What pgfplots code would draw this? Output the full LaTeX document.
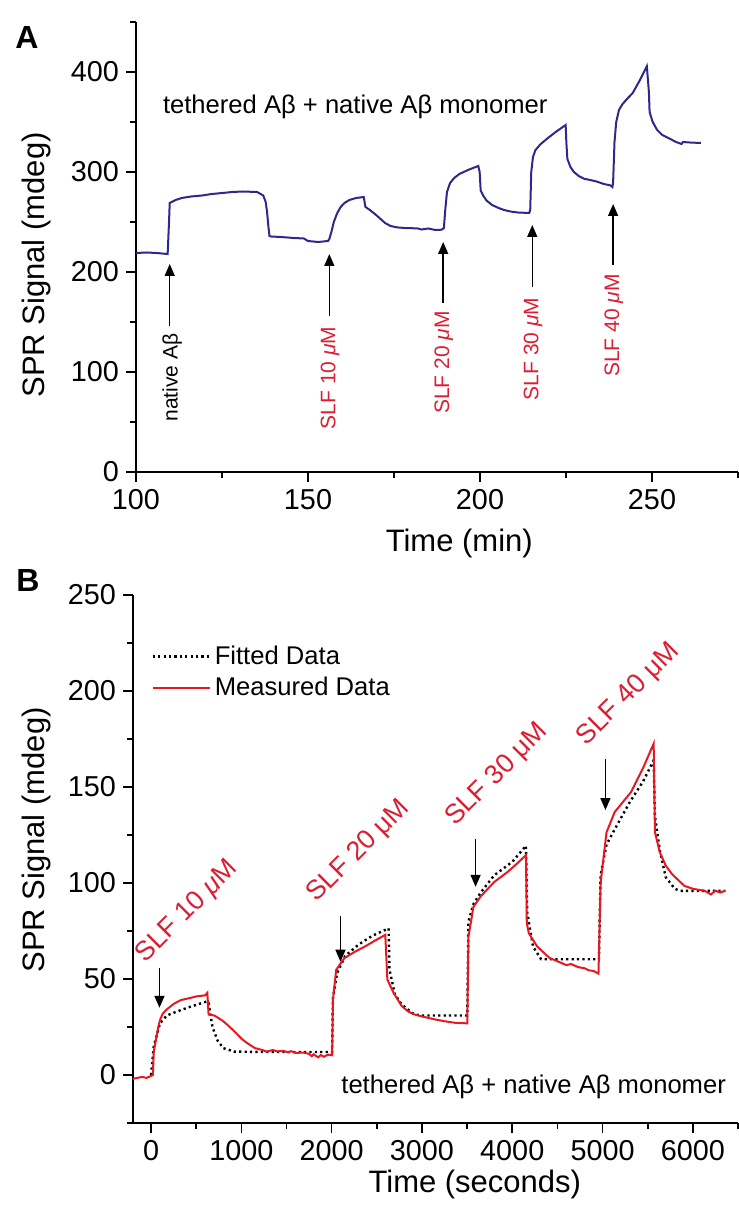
\documentclass[border=0pt]{standalone}
\usepackage{fontspec}
\setmainfont{Liberation Sans}
\usepackage{pgfplots}
\pgfplotsset{compat=1.18}
\usetikzlibrary{arrows.meta}
\definecolor{bluA}{RGB}{45,40,140}
\definecolor{redB}{RGB}{230,25,35}
\definecolor{redL}{RGB}{220,30,50}
\begin{document}
\begin{tikzpicture}
\useasboundingbox (0,0) rectangle (369.5pt,603.5pt);
\pgfplotsset{
  myaxis/.style={
    scale only axis,
    axis lines*=left,
    axis line style={line width=1pt,black},
    tick align=outside,
    major tick length=5pt,
    minor tick length=3pt,
    every tick/.style={black,line width=0.8pt},
    tick label style={font=\fontsize{14.4}{16}\selectfont},
    label style={font=\fontsize{15.5}{18}\selectfont},
    /pgf/number format/assume math mode=true,
    /pgf/number format/1000 sep={},
    clip=false,
  }
}
% Panel A
\begin{axis}[myaxis,
  at={(68pt,367.5pt)}, anchor=south west,
  width=301pt, height=225pt,
  xmin=100, xmax=275, ymin=0, ymax=450,
  xtick={100,150,200,250}, minor xtick={125,175,225,275},
  ytick={0,100,200,300,400}, minor ytick={50,150,250,350,450},
  xlabel={Time (min)}, ylabel={SPR Signal (mdeg)},
  xlabel style={at={(axis description cs:0.537,-0.158)},anchor=center},
  ylabel style={at={(axis description cs:-0.166,0.46)},anchor=center},
]
\addplot[bluA, line width=1pt] coordinates {
(100,219) (103,219.5) (106,219) (109.2,218) (109.6,250) (109.8,269) (111.5,272)
(113.3,274) (116,275.5) (119.2,276.5) (122,278) (125.1,279) (128,280) (131,280.5)
(135.2,280) (137,276.5) (137.7,270) (138.1,260) (138.5,245) (138.8,236)
(139.3,235.5) (142,235) (144,234.5) (146,234) (148.8,233.5) (150,231) (153,230)
(155.8,231) (156.2,233) (156.8,240) (157.5,250) (158.5,259) (159.5,265)
(160.6,269) (162,272) (164,274) (166.2,275)
(166.7,265) (168,262) (170,256.4) (172.4,249) (174,246) (175.9,244.6) (178,244)
(181.8,243.6) (183,242.5) (185,243.5) (187,242) (188.9,242.3) (189.5,244)
(189.9,262) (190.4,280) (191.3,289) (192.5,294) (194,298) (196.5,302) (199.5,306)
(199.9,300) (200.2,281.5) (201,276) (201.9,271.5) (203.5,267) (205.4,264)
(207,262) (209,260.4) (211,259.5) (214.3,259)
(214.6,262) (214.9,300) (215.4,315) (216.1,321.8) (217.5,327.5) (219.6,333.6)
(222,340) (224.9,347)
(225.1,330) (225.4,313) (226.3,305) (227.3,300) (228.7,296) (230.2,293.3)
(232,292) (233.8,290.6) (236,288) (237.9,286.6) (238.5,285)
(238.7,290) (239.1,330) (239.6,350) (240.4,362) (241.4,367.8) (243,374)
(244.4,379) (246.5,392) (248.5,405.7)
(249.1,380) (249.3,360) (250.2,350) (251.5,342) (253,337) (255,333.6)
(257,330) (258.6,328) (259,330) (261,329.5) (264.2,329)
};
\node[anchor=west,font=\fontsize{12.8}{15}\selectfont] at (axis cs:105.8,365) {tethered Aβ + native Aβ monomer};
% arrows
\draw[-{Triangle[length=6pt,width=5pt]},line width=0.75pt] (axis cs:109.8,146) -- (axis cs:109.8,208);
\draw[-{Triangle[length=6pt,width=5pt]},line width=0.75pt] (axis cs:156.2,156) -- (axis cs:156.2,218);
\draw[-{Triangle[length=6pt,width=5pt]},line width=0.75pt] (axis cs:189.3,169) -- (axis cs:189.3,230);
\draw[-{Triangle[length=6pt,width=5pt]},line width=0.75pt] (axis cs:215.2,185) -- (axis cs:215.2,247);
\draw[-{Triangle[length=6pt,width=5pt]},line width=0.75pt] (axis cs:238.7,207) -- (axis cs:238.7,268);
\node[rotate=90,font=\fontsize{10.5}{12}\selectfont] at (axis cs:110.5,94.5) {native Aβ};
\node[rotate=90,text=redL,font=\fontsize{10.5}{12}\selectfont] at (axis cs:156.4,94) {SLF 10 \textit{μ}M};
\node[rotate=90,text=redL,font=\fontsize{10.5}{12}\selectfont] at (axis cs:189.5,109.5) {SLF 20 \textit{μ}M};
\node[rotate=90,text=redL,font=\fontsize{10.5}{12}\selectfont] at (axis cs:215.4,123) {SLF 30 \textit{μ}M};
\node[rotate=90,text=redL,font=\fontsize{10.5}{12}\selectfont] at (axis cs:238.9,146.5) {SLF 40 \textit{μ}M};
\end{axis}
% Panel B
\begin{axis}[myaxis,
  at={(66.5pt,42pt)}, anchor=south west,
  width=302.5pt, height=264pt,
  xmin=-200, xmax=6500, ymin=-25, ymax=250,
  xtick={0,1000,2000,3000,4000,5000,6000}, minor xtick={500,1500,2500,3500,4500,5500,6500},
  ytick={0,50,100,150,200,250}, minor ytick={-25,25,75,125,175,225},
  xlabel={Time (seconds)}, ylabel={SPR Signal (mdeg)},
  xlabel style={at={(axis description cs:0.565,-0.117)},anchor=center},
  ylabel style={at={(axis description cs:-0.16,0.536)},anchor=center},
  legend style={at={(axis description cs:0.02,0.92)},anchor=north west,draw=none,fill=none,
    font=\fontsize{12.8}{15}\selectfont,row sep=1pt},
  legend cell align=left,
  legend image code/.code={\draw[#1] (0cm,0cm) -- (1.0cm,0cm);},
]
\addplot[black, line width=1.2pt, dash pattern=on 1.1pt off 1.6pt] coordinates {
(0,0) (30,15) (100,27) (175,31) (250,32.4) (400,35) (623,38.4) (637,37.5)
(680,25) (736,18) (800,14) (917,12.2) (1200,12) (2005,12) (2014,40) (2060,53)
(2150,62) (2300,68) (2450,72.5) (2631,76.4) (2640,55) (2700,42) (2776,36.7)
(2912,31.6) (3000,31) (3502,31) (3515,80) (3570,89) (3650,95) (3800,104)
(4000,111) (4152,119.4) (4165,85) (4230,66.9) (4320,60.3) (4960,60.3)
(4978,104) (5044,120) (5135,128) (5300,142) (5450,153) (5566,163.9)
(5580,135) (5634,117) (5700,103) (5800,97) (5860,95.9) (6360,95.9)
};
\addlegendentry{Fitted Data}
\addplot[redB, line width=1pt] coordinates {
(-200,-2) (-150,-1.5) (-100,-1) (-50,-1.5) (0,-0.5) (20,0) (30,12) (60,20)
(80,25) (102,29) (130,32) (170,34) (250,37) (329,39) (420,40) (510,41) (600,41.5) (623,42.8)
(637,31.5) (700,31) (736,30) (800,28) (860,25.5) (917,23) (1000,19) (1053,17) (1150,14)
(1234,13) (1280,12.2) (1350,13) (1400,12.3) (1461,12.6) (1520,11.8) (1550,12.4)
(1600,11.5) (1688,11.7) (1750,11) (1780,9.8) (1800,10.8) (1850,9.2) (1880,10.4)
(1914,9.5) (1960,10.6) (2005,10.3) (2014,39) (2050,54.8) (2141,60.9)
(2250,64) (2368,66.9) (2480,70) (2594,73) (2617,49.7) (2685,42.8)
(2776,35.9) (2850,33) (2912,31.6) (3000,30.5) (3139,29) (3250,28) (3366,27.2)
(3502,26.9) (3515,72) (3570,87.6) (3650,93) (3800,100.5) (3955,106)
(4050,110) (4152,114.5) (4161,79) (4184,73.8) (4275,67) (4411,61)
(4547,58.3) (4600,57.2) (4650,57.8) (4729,56.2) (4800,55.6) (4850,54.5) (4900,54.2) (4955,52.8) (4978,100)
(5044,126.4) (5135,137) (5316,147.4) (5450,160) (5566,172.6) (5580,126.5)
(5634,116) (5700,109) (5770,104.6) (5906,98.5) (6000,97) (6133,95.9)
(6200,94) (6250,96) (6300,95) (6360,96)
};
\addlegendentry{Measured Data}
\node[anchor=east,font=\fontsize{12.8}{15}\selectfont] at (axis cs:6444,-6.3) {tethered Aβ + native Aβ monomer};
\draw[-{Triangle[length=6pt,width=5pt]},line width=0.75pt] (axis cs:93,55.7) -- (axis cs:93,35);
\draw[-{Triangle[length=6pt,width=5pt]},line width=0.75pt] (axis cs:2098,83) -- (axis cs:2098,59);
\draw[-{Triangle[length=6pt,width=5pt]},line width=0.75pt] (axis cs:3594,123) -- (axis cs:3594,98);
\draw[-{Triangle[length=6pt,width=5pt]},line width=0.75pt] (axis cs:5032,164.7) -- (axis cs:5032,138);
\node[rotate=45,text=redL,font=\fontsize{13.5}{15}\selectfont] at (axis cs:400,85) {SLF 10 \textit{μ}M};
\node[rotate=45,text=redL,font=\fontsize{13.5}{15}\selectfont] at (axis cs:2300,116.6) {SLF 20 μM};
\node[rotate=45,text=redL,font=\fontsize{13.5}{15}\selectfont] at (axis cs:3833,156.4) {SLF 30 μM};
\node[rotate=45,text=redL,font=\fontsize{13.5}{15}\selectfont] at (axis cs:5289,198.2) {SLF 40 μM};
\end{axis}
\node[font=\bfseries\fontsize{16}{18}\selectfont] at (13.5pt,585pt) {A};
\node[font=\bfseries\fontsize{16}{18}\selectfont] at (14pt,313.5pt) {B};
\end{tikzpicture}
\end{document}
